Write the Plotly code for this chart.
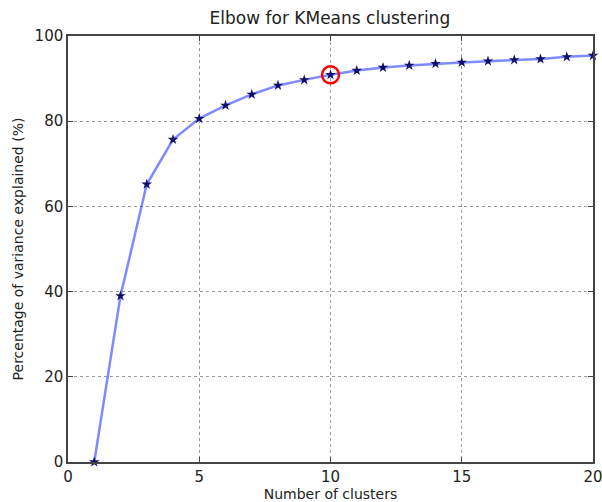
import plotly.graph_objects as go

clusters = list(range(1, 21))
variance_pct = [0.0, 39.0, 65.2, 75.7, 80.6, 83.7, 86.3, 88.4, 89.7, 90.9,
                91.9, 92.6, 93.1, 93.5, 93.8, 94.1, 94.4, 94.6, 95.1, 95.4]
highlight_k = 10
x_ticks = [0, 5, 10, 15, 20]
y_ticks = [0, 20, 40, 60, 80, 100]

fig = go.Figure()
fig.add_trace(go.Scatter(
    x=clusters, y=variance_pct, mode="lines+markers",
    line=dict(color="rgba(40,60,255,0.6)", width=2.5),
    marker=dict(symbol="star", size=8, color="#10106a"),
    showlegend=False, cliponaxis=False))
fig.add_trace(go.Scatter(
    x=[highlight_k], y=[variance_pct[clusters.index(highlight_k)]], mode="markers",
    marker=dict(symbol="circle-open", size=17, color="red", line=dict(width=2.5, color="red")),
    showlegend=False, cliponaxis=False))

axis_common = dict(
    showline=True, mirror="ticks", linecolor="#444", linewidth=1.5,
    ticks="inside", ticklen=5, tickcolor="#444",
    showgrid=True, gridcolor="#999", griddash="dot", gridwidth=1,
    zeroline=False, automargin=False, ticklabeloverflow="allow",
    tickfont=dict(family="DejaVu Sans", size=15, color="#222"),
)
fig.update_xaxes(range=[0, 20], tickmode="array", tickvals=x_ticks,
                 ticktext=[str(v) for v in x_ticks],
                 title=dict(text="Number of clusters", font=dict(family="DejaVu Sans", size=14, color="#222"), standoff=0),
                 **axis_common)
fig.update_yaxes(range=[0, 100], tickmode="array", tickvals=y_ticks,
                 ticktext=[str(v) for v in y_ticks],
                 title=dict(text="Percentage of variance explained (%)", font=dict(family="DejaVu Sans", size=14, color="#222"), standoff=8),
                 **axis_common)

fig.update_layout(
    width=602, height=502,
    margin=dict(l=68, r=9, t=36, b=40, autoexpand=False),
    paper_bgcolor="white", plot_bgcolor="white",
    title=dict(text="Elbow for KMeans clustering", x=0.548, xanchor="center", y=0.964, yanchor="middle",
               font=dict(family="DejaVu Sans", size=17, color="#222")),
)
fig.write_html("out.html",
               config={"displayModeBar": False},
               post_script="document.body.style.margin='0';document.body.style.overflow='hidden';")
